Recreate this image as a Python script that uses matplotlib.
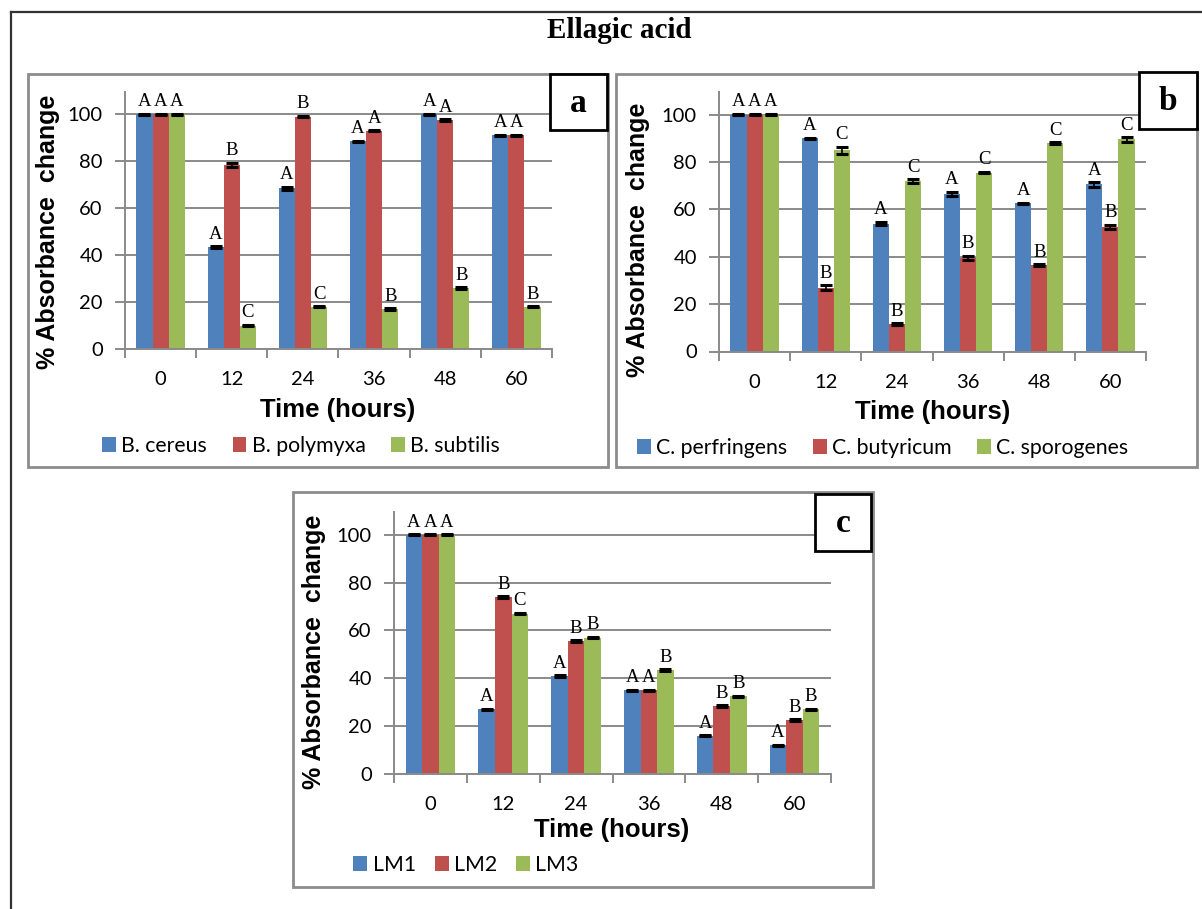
import matplotlib
matplotlib.use("Agg")
import matplotlib.pyplot as plt
from matplotlib.patches import Rectangle, Patch
import numpy as np

# ---- data ----
hours = ["0", "12", "24", "36", "48", "60"]

bac_names = ["B. cereus", "B. polymyxa", "B. subtilis"]
bac_cereus = [100, 43.5, 68.5, 88.5, 100, 91]
bac_polymyxa = [100, 78.5, 99, 93, 97.5, 91]
bac_subtilis = [100, 10, 18, 17, 26, 18]
bac_cereus_err = [0.3, 0.3, 0.6, 0.3, 0.3, 0.3]
bac_polymyxa_err = [0.3, 0.8, 0.3, 0.3, 0.3, 0.3]
bac_subtilis_err = [0.3, 0.3, 0.3, 0.3, 0.3, 0.3]
bac_letters = [["A", "A", "A"], ["A", "B", "C"], ["A", "B", "C"],
               ["A", "A", "B"], ["A", "A", "B"], ["A", "A", "B"]]

clo_names = ["C. perfringens", "C. butyricum", "C. sporogenes"]
clo_perfringens = [100, 90, 54, 66.5, 62.5, 70.5]
clo_butyricum = [100, 27, 11.5, 39.5, 36.5, 52.5]
clo_sporogenes = [100, 85, 72, 75.5, 88, 89.5]
clo_perfringens_err = [0.3, 0.3, 0.8, 1.0, 0.3, 1.0]
clo_butyricum_err = [0.3, 1.0, 0.4, 1.0, 0.4, 1.0]
clo_sporogenes_err = [0.3, 1.5, 0.8, 0.3, 0.4, 1.0]
clo_letters = [["A", "A", "A"], ["A", "B", "C"], ["A", "B", "C"],
               ["A", "B", "C"], ["A", "B", "C"], ["A", "B", "C"]]

lm_names = ["LM1", "LM2", "LM3"]
lm1 = [100, 27, 41, 35, 16, 12]
lm2 = [100, 74, 55.5, 35, 28.5, 22.5]
lm3 = [100, 67, 57, 43.5, 32.5, 27]
lm1_err = [0.3, 0.3, 0.3, 0.3, 0.3, 0.3]
lm2_err = [0.3, 0.3, 0.3, 0.3, 0.3, 0.3]
lm3_err = [0.3, 0.3, 0.3, 0.3, 0.3, 0.3]
lm_letters = [["A", "A", "A"], ["A", "B", "C"], ["A", "B", "B"],
              ["A", "A", "B"], ["A", "B", "B"], ["A", "B", "B"]]

# ---- style ----
COLORS = ["#4F81BD", "#C0504D", "#9BBB59"]
GRID = "#8a8a8a"
W, H = 1202, 909
SANS = ["Liberation Sans", "DejaVu Sans"]
LEG = ["Lato", "DejaVu Sans"]
SERIF = ["Liberation Serif", "DejaVu Serif"]

fig = plt.figure(figsize=(W / 100, H / 100), dpi=100)
fig.patch.set_facecolor("white")


def fx(px):
    return px / W


def fy(py):
    return 1 - py / H


def frame(x0, y0, x1, y1, color, lw):
    fig.patches.append(Rectangle((fx(x0), fy(y1)), fx(x1) - fx(x0), fy(y0) - fy(y1),
                                 transform=fig.transFigure, fill=False,
                                 edgecolor=color, linewidth=lw, zorder=0))


def panel(left, right, bottom, top, series, errs, letters, names, tag_box,
          ylab_xy, xlab_xy, leg_xy, colspace):
    ax = fig.add_axes([fx(left), fy(bottom), fx(right) - fx(left), fy(top) - fy(bottom)])
    ax.set_facecolor("none")
    x = np.arange(len(hours))
    bw = 0.227
    for i, (vals, err) in enumerate(zip(series, errs)):
        pos = x + (i - 1) * bw
        ax.bar(pos, vals, width=bw, color=COLORS[i], zorder=2)
        ax.errorbar(pos, vals, yerr=err, fmt="none", ecolor="black",
                    elinewidth=1.2, capsize=4.2, capthick=2.2, zorder=3)
        for j in range(len(hours)):
            ax.annotate(letters[j][i], (pos[j], vals[j] + err[j]), xytext=(0, 2.5),
                        textcoords="offset points", ha="center", va="bottom",
                        fontsize=13.5, family=SERIF, zorder=4)
    ax.set_xlim(-0.5, 5.5)
    ax.set_ylim(0, 109.5)
    ax.set_yticks([0, 20, 40, 60, 80, 100])
    ax.yaxis.grid(True, color=GRID, linewidth=1.4, zorder=0)
    ax.set_axisbelow(True)
    ax.set_xticks(x)
    ax.set_xticklabels(hours)
    ax.set_xticks(np.arange(-0.5, 6.0, 1.0), minor=True)
    ax.tick_params(axis="x", which="major", length=0, pad=16, labelsize=14.5)
    ax.tick_params(axis="x", which="minor", length=6.5, width=1.4, color=GRID, direction="out")
    ax.tick_params(axis="y", which="major", length=7, width=1.4, color=GRID,
                   direction="out", pad=9, labelsize=14.5)
    for lab in ax.get_xticklabels() + ax.get_yticklabels():
        lab.set_family(LEG)
    for s in ["top", "right"]:
        ax.spines[s].set_visible(False)
    for s in ["left", "bottom"]:
        ax.spines[s].set_color(GRID)
        ax.spines[s].set_linewidth(1.4)

    fig.text(fx(ylab_xy[0]), fy(ylab_xy[1]), "% Absorbance  change", rotation=90,
             ha="center", va="center", fontsize=18, fontweight="bold", family=SANS)
    fig.text(fx(xlab_xy[0]), fy(xlab_xy[1]), "Time (hours)",
             ha="center", va="center", fontsize=18.5, fontweight="bold", family=SANS)

    handles = [Patch(facecolor=c, edgecolor="none") for c in COLORS]
    fig.legend(handles, names, loc="center", bbox_to_anchor=(fx(leg_xy[0]), fy(leg_xy[1])),
               ncol=3, frameon=False, handlelength=0.65, handleheight=0.65,
               handletextpad=0.25, columnspacing=colspace,
               prop={"family": LEG, "size": 15.3})

    bx0, by0, bx1, by1, tag = tag_box
    fig.patches.append(Rectangle((fx(bx0), fy(by1)), fx(bx1) - fx(bx0), fy(by0) - fy(by1),
                                 transform=fig.transFigure, facecolor="white",
                                 edgecolor="black", linewidth=2, zorder=5))
    fig.text(fx((bx0 + bx1) / 2), fy((by0 + by1) / 2 + 1), tag, ha="center", va="center",
             fontsize=24, fontweight="bold", family=SERIF, zorder=6)
    return ax


# outer border (open on right and bottom)
fig.add_artist(plt.Line2D([fx(11), fx(11)], [fy(12), fy(915)], transform=fig.transFigure,
                          color="#333333", linewidth=1.6))
fig.add_artist(plt.Line2D([fx(11), fx(1210)], [fy(12), fy(12)], transform=fig.transFigure,
                          color="#333333", linewidth=1.6))

# panel frames
frame(28, 74, 608, 467, "#8c8c8c", 2)
frame(616, 74, 1197, 467, "#8c8c8c", 2)
frame(293, 492, 873, 887, "#8c8c8c", 2)

fig.text(fx(619), fy(31), "Ellagic acid", ha="center", va="center",
         fontsize=21, fontweight="bold", family=SERIF)

panel(125, 552, 349, 92,
      [bac_cereus, bac_polymyxa, bac_subtilis],
      [bac_cereus_err, bac_polymyxa_err, bac_subtilis_err],
      bac_letters, bac_names, (550, 74, 607, 130, "a"),
      (48, 232), (338, 410), (301, 446), 1.2)

panel(719, 1146, 351.5, 92,
      [clo_perfringens, clo_butyricum, clo_sporogenes],
      [clo_perfringens_err, clo_butyricum_err, clo_sporogenes_err],
      clo_letters, clo_names, (1139, 72, 1197, 129, "b"),
      (638, 240), (933, 412), (883, 448), 1.2)

panel(394, 831, 774, 512,
      [lm1, lm2, lm3],
      [lm1_err, lm2_err, lm3_err],
      lm_letters, lm_names, (815, 494, 871, 551, "c"),
      (314, 652), (612, 830), (466, 865), 0.9)

fig.savefig("out.png", dpi=100)
